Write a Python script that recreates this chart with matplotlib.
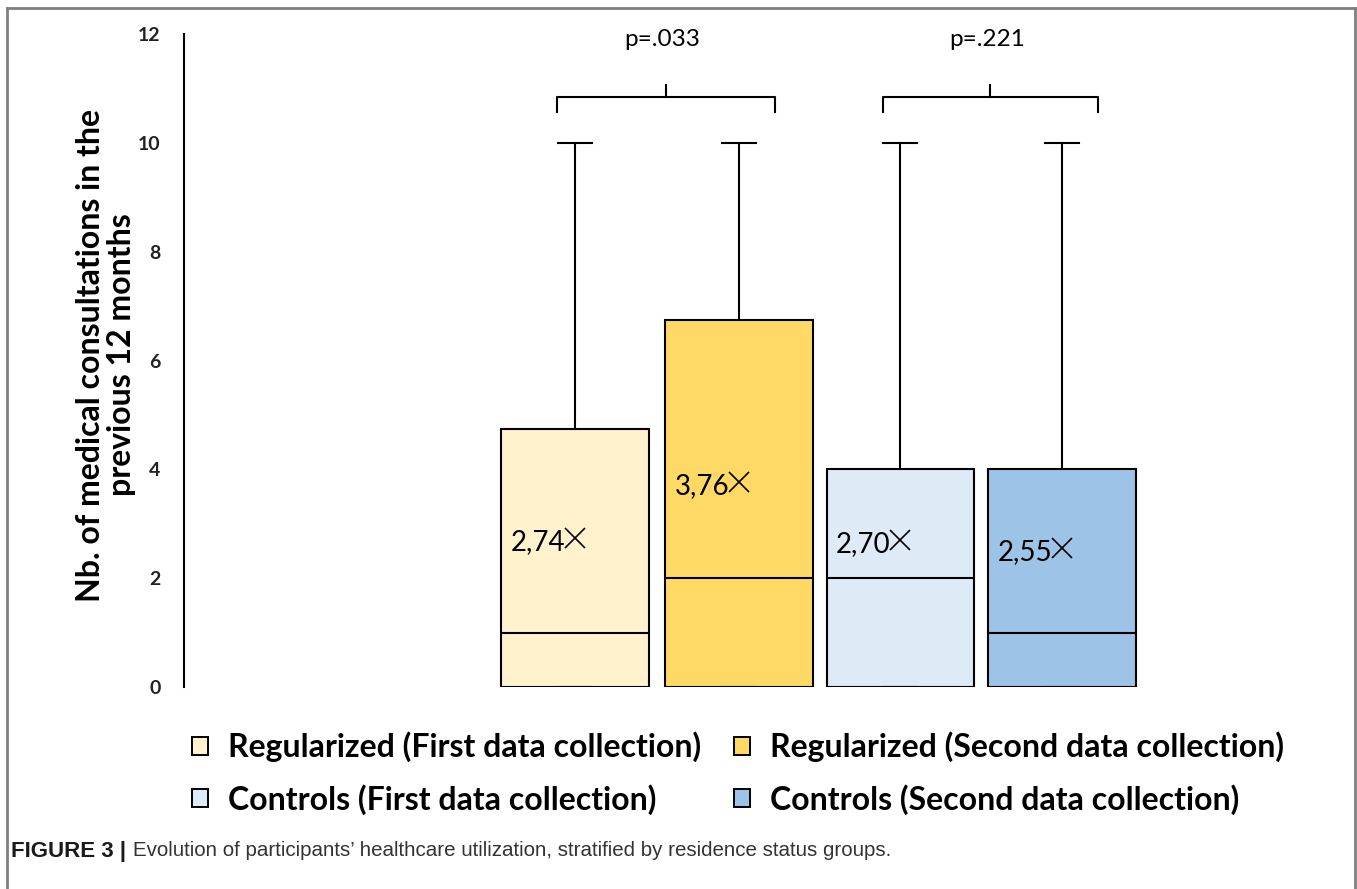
import matplotlib.pyplot as plt
from matplotlib.patches import Patch
from matplotlib.lines import Line2D

# box statistics
groups = ["Regularized (First data collection)", "Regularized (Second data collection)",
          "Controls (First data collection)", "Controls (Second data collection)"]
q1 = [0, 0, 0, 0]
medians = [1, 2, 2, 1]
q3 = [4.75, 6.75, 4, 4]
whis_lo = [0, 0, 0, 0]
whis_hi = [10, 10, 10, 10]
means = [2.74, 3.76, 2.70, 2.55]
mean_labels = ["2,74", "3,76", "2,70", "2,55"]
colors = ["#FFF2CC", "#FFD966", "#DEEBF7", "#9DC3E6"]
pairs = [(0, 1, "p=.033"), (2, 3, "p=.221")]

W, H = 1357, 889
fig = plt.figure(figsize=(W / 100, H / 100), dpi=100)
ax = fig.add_axes([184 / W, (H - 687) / H, (1340 - 184) / W, (687 - 34) / H])

positions = [1, 2.01, 3.005, 4.0]
stats = []
for i in range(4):
    stats.append(dict(q1=q1[i], med=medians[i], q3=q3[i], whislo=whis_lo[i],
                      whishi=whis_hi[i], mean=means[i], fliers=[]))

bp = ax.bxp(stats, positions=positions, widths=0.91, capwidths=0.21,
            patch_artist=True, showmeans=True,
            boxprops=dict(edgecolor="black", linewidth=1.5),
            medianprops=dict(color="black", linewidth=1.5),
            whiskerprops=dict(color="black", linewidth=1.5),
            capprops=dict(color="black", linewidth=1.5),
            meanprops=dict(marker="x", markeredgecolor="black", markersize=14,
                           markeredgewidth=1.2))
for patch, c in zip(bp["boxes"], colors):
    patch.set_facecolor(c)

for p, m, lab in zip(positions, means, mean_labels):
    ax.text(p - 0.06, m - 0.07, lab, ha="right", va="center", fontsize=20,
            family="Lato", color="black")

# curly brackets with p-values
for a, b, txt in pairs:
    xa, xb = positions[a] - 0.11, positions[b] + 0.22
    xm = (xa + xb) / 2
    ax.plot([xa, xa, xb, xb], [10.57, 10.85, 10.85, 10.57], color="black",
            lw=1.5, clip_on=False, solid_joinstyle="round")
    ax.plot([xm, xm], [10.85, 11.07], color="black", lw=1.5, clip_on=False)
    ax.text(xm - 0.02, 11.9, txt, ha="center", va="center", fontsize=17.5,
            family="Lato")

ax.set_xlim(1 - (575 - 184) / 162.3, 1 + (1340 - 575) / 162.3)
ax.set_ylim(0, 12)
ax.set_yticks(range(0, 13, 2))
ax.tick_params(axis="y", length=0, pad=17, labelsize=14)
for t in ax.get_yticklabels():
    t.set_fontweight("bold")
    t.set_family("Lato")
    t.set_color("#222222")
ax.set_xticks([])
for s in ["top", "right", "bottom"]:
    ax.spines[s].set_visible(False)
ax.spines["left"].set_linewidth(1.5)
fig.text(106 / W, 1 - 355 / H,
         "Nb. of medical consultations in the\nprevious 12 months",
         fontsize=23, fontweight="bold", family="Lato", rotation=90,
         ha="center", va="center", linespacing=1.1, multialignment="center")

order = [0, 2, 1, 3]
handles = [Patch(facecolor=colors[i], edgecolor="black", linewidth=1.4) for i in order]
fig.legend(handles, [groups[i] for i in order], ncol=2, frameon=False,
           loc="center left", bbox_to_anchor=(163 / W, 1 - 773 / H),
           prop=dict(family="Lato", weight="bold", size=23),
           handlelength=0.5, handleheight=0.5, handletextpad=0.65,
           columnspacing=1.0, labelspacing=0.68)

# outer frame (open at bottom)
frame = dict(color="#7f7f7f", lw=2, transform=fig.transFigure)
fig.add_artist(Line2D([7 / W, 7 / W], [0, 1 - 8 / H], **frame))
fig.add_artist(Line2D([7 / W, 1355 / W], [1 - 8 / H, 1 - 8 / H], **frame))
fig.add_artist(Line2D([1355 / W, 1355 / W], [0, 1 - 8 / H], **frame))

fig.text(11 / W, 1 - 851 / H, "FIGURE 3 |", fontsize=16, fontweight="bold",
         family="Liberation Sans", va="center", color="#1a1a1a")
fig.text(133 / W, 1 - 851 / H,
         "Evolution of participants\u2019 healthcare utilization, stratified by residence status groups.",
         fontsize=14.8, family="Liberation Sans", va="center", color="#333333")

fig.savefig("out.png", dpi=100)
